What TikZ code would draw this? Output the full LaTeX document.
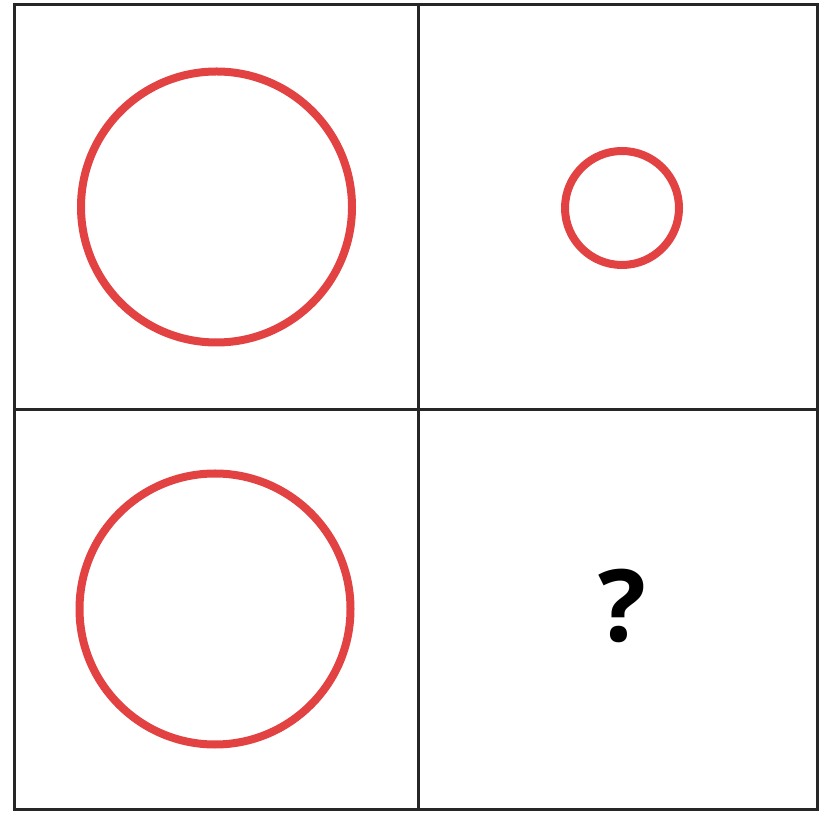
\documentclass[tikz,border=0pt]{standalone}
\usepackage{fontspec}
\newfontfamily\qfont{Open Sans}
\definecolor{ringred}{RGB}{226,66,66}
\begin{document}
\begin{tikzpicture}[x=1pt,y=1pt,
  gridline/.style={draw=black!85,line width=3pt},
  ring/.style={draw=ringred,line width=8pt}]
\useasboundingbox (0,0) rectangle (819,814);
\fill[white] (0,0) rectangle (819,814);
% grid
\coordinate (tl) at (14,809);
\coordinate (br) at (817,5);
\draw[gridline] (tl) rectangle (br);
\coordinate (vt) at (418,809);
\coordinate (vb) at (418,5);
\coordinate (hl) at (14,404);
\coordinate (hr) at (817,404);
\draw[gridline] (vt) -- (vb);
\draw[gridline] (hl) -- (hr);
% circles
\node[ring,circle,minimum size=271pt,inner sep=0pt] (c1) at (216.5,607) {};
\node[ring,circle,minimum size=114pt,inner sep=0pt] (c2) at (622,606) {};
\node[ring,circle,minimum size=271pt,inner sep=0pt] (c3) at (215,205) {};
% question mark
\node[inner sep=0pt] (q) at (622,208) {\qfont\bfseries\fontsize{100}{100}\selectfont ?};
\end{tikzpicture}
\end{document}
